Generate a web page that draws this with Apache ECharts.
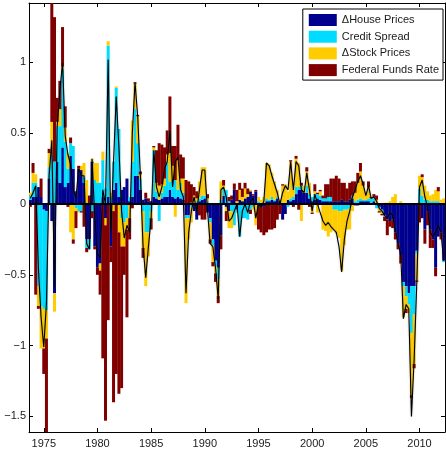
<!DOCTYPE html>
<html>
<head>
<meta charset="utf-8">
<script src="https://cdn.jsdelivr.net/npm/echarts@6/dist/echarts.min.js"></script>
<style>
  html, body { margin: 0; padding: 0; background: #fff; }
  #chart { width: 446px; height: 457px; }
</style>
</head>
<body>
<div id="chart"></div>
<script>
// Quarterly historical decomposition, 1973Q4 - 2012Q2
const firstQuarter = 1973.75;

const housePrices = [
  0.03, 0.05, 0.05, 0.12, 0.05, -0.04, -0.05, 0.18, -0.12, -0.63,
  0.30, 0.15, 0.40, 0.12, 0.15, 0.34, 0.25, 0.09, 0.25, 0.24,
  0.15, -0.25, -0.25, 0.30, -0.30, -0.45, -0.42, 0.05, -0.10, 0.05,
  -0.30, 0.10, 0.15, 0.05, 0.10, 0.12, 0.18, 0.02, 0.05, 0.20,
  0.20, 0.10, 0.03, 0.04, 0.02, 0.02, 0.05, 0.04, 0.03, 0.04,
  0.05, 0.05, 0.10, 0.05, 0.04, 0.05, 0.04, 0.03, -0.08, -0.08,
  0.01, -0.05, -0.11, 0.02, 0.03, 0.04, -0.06, -0.10, -0.25, -0.40,
  -0.45, -0.22, 0.06, -0.02, -0.05, 0.03, 0.10, -0.04, 0.03, 0.02,
  0.04, 0.05, 0.09, 0.06, 0.09, -0.02, -0.02, -0.02, 0.02, 0.02,
  0.03, 0.02, 0.04, 0.02, -0.11, -0.07, 0.03, 0.02, 0.03, 0.07,
  0.10, 0.10, 0.08, 0.08, 0.04, 0.02, 0.03, 0.04, 0.03, 0.02,
  0.02, 0.02, 0.02, 0.02, 0.02, 0.02, 0.03, 0.02, 0.02, 0.03,
  0.04, -0.01, -0.01, 0.02, 0.02, 0.02, 0.02, 0.01, 0.02, -0.01,
  -0.02, -0.04, -0.08, -0.11, -0.12, -0.11, -0.20, -0.28, -0.36, -0.55,
  -0.58, -0.63, -0.58, -0.58, -0.33, 0.01, -0.10, -0.18, -0.05, -0.18,
  -0.25, -0.45, -0.23, -0.20, -0.40
];

const creditSpread = [
  0.03, 0.10, 0.10, -0.58, -0.72, -0.70, -0.70, 0.08, 0.35, 0.30,
  0.25, 0.40, 0.55, 0.32, 0.10, 0.09, 0.16, -0.03, -0.05, -0.05,
  0.04, -0.06, -0.07, -0.05, 0.17, 0.15, 0.15, 0.26, 0.11, 1.07,
  0.05, 0.20, 0.67, 0.48, -0.10, -0.13, -0.10, 0.03, 0.25, 0.47,
  0.23, 0.08, -0.05, -0.20, -0.20, -0.05, 0.33, 0.05, -0.12, 0.04,
  0.08, 0.25, 0.06, 0.12, 0.13, 0.05, 0.11, 0.05, -0.02, -0.02,
  -0.02, 0.00, 0.02, 0.02, 0.03, 0.02, 0.02, -0.03, -0.04, -0.04,
  -0.08, 0.03, 0.05, 0.10, 0.02, -0.05, -0.15, -0.02, -0.23, -0.10,
  -0.10, -0.11, -0.04, -0.02, 0.00, 0.02, 0.01, 0.00, 0.02, 0.01,
  0.02, 0.01, 0.01, 0.00, 0.01, 0.01, -0.02, 0.02, 0.02, 0.05,
  0.02, 0.03, 0.00, 0.05, 0.03, 0.03, 0.04, 0.03, 0.03, 0.02,
  0.02, 0.03, 0.03, -0.04, -0.04, -0.05, -0.05, -0.04, -0.04, -0.03,
  0.02, 0.02, 0.03, 0.02, 0.01, 0.01, 0.02, 0.03, 0.02, -0.02,
  -0.01, -0.01, -0.01, 0.00, 0.00, 0.00, 0.00, 0.00, 0.00, -0.03,
  -0.07, -0.08, -0.33, -0.20, -0.02, 0.10, 0.06, 0.03, 0.03, 0.02,
  0.02, 0.02, 0.02, 0.01, -0.01
];

const stockPrices = [
  0.02, 0.07, 0.06, -0.14, -0.30, -0.28, -0.20, 0.10, 0.23, -0.13,
  0.03, 0.12, 0.02, 0.10, 0.11, -0.20, -0.25, -0.02, -0.01, 0.03,
  0.10, 0.17, 0.00, 0.02, 0.12, 0.14, -0.05, 0.06, -0.05, 0.03,
  0.03, -0.05, 0.01, -0.20, -0.20, -0.17, -0.08, -0.10, 0.29, 0.18,
  0.19, 0.03, -0.26, -0.38, -0.17, -0.05, 0.02, 0.06, 0.10, 0.06,
  0.05, 0.05, 0.20, 0.10, -0.09, 0.21, 0.03, 0.10, -0.60, -0.15,
  -0.11, 0.06, 0.02, 0.12, 0.20, 0.20, 0.02, -0.12, -0.12, -0.05,
  -0.12, 0.13, 0.02, -0.03, -0.12, -0.12, 0.00, 0.02, 0.07, 0.03,
  0.07, 0.02, 0.01, -0.02, -0.15, 0.03, 0.02, 0.05, 0.25, 0.25,
  0.17, 0.13, 0.05, 0.01, 0.12, 0.13, 0.06, 0.26, 0.06, 0.20,
  0.17, -0.12, 0.05, 0.10, 0.08, -0.06, 0.02, -0.06, 0.03, -0.18,
  -0.19, -0.23, -0.20, -0.14, -0.17, -0.19, -0.42, -0.25, -0.14, -0.15,
  -0.05, 0.06, 0.12, 0.19, 0.10, 0.05, 0.08, 0.00, 0.01, 0.03,
  -0.02, -0.02, 0.01, 0.01, 0.02, 0.05, 0.07, 0.00, 0.02, -0.22,
  -0.09, -0.06, -0.44, -0.35, -0.19, 0.09, 0.13, 0.10, 0.06, 0.04,
  0.05, 0.08, 0.07, 0.02, 0.04
];

const fedFundsRate = [
  -0.02, 0.07, -0.64, -0.02, 0.13, -0.18, -0.70, 0.03, 0.90, 1.02,
  0.17, 0.20, 0.28, 0.15, -0.02, 0.04, -0.03, -0.12, 0.02, -0.01,
  -0.16, -0.03, 0.06, -0.05, -0.02, -0.05, -0.17, -1.09, -1.38, -0.82,
  -0.11, -1.35, -1.20, -1.14, -1.00, -0.20, -0.62, -0.15, -0.03, 0.01,
  0.01, 0.02, -0.07, 0.04, 0.02, -0.08, 0.01, 0.23, 0.30, 0.28,
  0.22, 0.17, 0.40, 0.14, 0.24, 0.25, 0.17, 0.15, 0.17, 0.16,
  0.13, 0.06, 0.05, -0.08, -0.11, -0.11, 0.03, -0.03, -0.03, -0.06,
  -0.05, -0.10, 0.04, -0.07, 0.03, 0.03, 0.045, 0.08, 0.05, 0.06,
  0.04, 0.04, -0.03, 0.01, 0.01, -0.16, -0.18, -0.20, -0.20, -0.18,
  -0.18, -0.17, -0.11, -0.07, 0.01, 0.00, 0.00, 0.01, -0.02, 0.02,
  -0.04, 0.02, 0.00, 0.03, -0.02, -0.01, 0.05, 0.01, 0.01, 0.02,
  0.10, 0.09, 0.13, 0.16, 0.18, 0.16, 0.12, 0.13, 0.09, 0.12,
  0.10, 0.08, 0.07, 0.06, 0.03, 0.00, 0.04, 0.01, 0.02, 0.03,
  -0.01, -0.01, -0.03, -0.11, -0.04, -0.06, -0.05, -0.04, -0.06, 0.00,
  -0.03, 0.00, -0.02, -0.03, -0.01, -0.13, 0.02, -0.10, -0.10, -0.13,
  -0.06, -0.06, 0.03, -0.05, 0.00
];

// Observed deviation (black line)
const observed = [
  0.04, 0.08, 0.13, -0.45, -0.80, -1.01, -0.70, 0.20, 0.45, -0.58,
  0.55, 0.80, 1.00, 0.48, 0.35, 0.28, 0.10, 0.04, 0.25, 0.20,
  0.20, -0.28, -0.32, 0.32, -0.10, -0.35, -0.38, 0.10, 0.00, 1.02,
  -0.20, 0.30, 0.76, 0.40, -0.05, -0.24, -0.15, -0.20, 0.50, 0.86,
  0.62, 0.20, -0.30, -0.52, -0.30, -0.10, 0.38, 0.12, 0.05, 0.12,
  0.25, 0.30, 0.52, 0.12, 0.30, 0.33, 0.10, 0.05, -0.63, -0.20,
  -0.05, 0.05, -0.05, 0.10, 0.24, 0.24, -0.04, -0.28, -0.30, -0.45,
  -0.67, 0.10, 0.12, 0.05, -0.12, -0.10, -0.05, 0.00, -0.23, -0.05,
  0.00, -0.06, 0.02, 0.04, -0.10, 0.00, -0.02, 0.02, 0.29, 0.27,
  0.20, 0.14, 0.08, 0.00, 0.08, 0.13, 0.10, 0.30, 0.10, 0.30,
  0.27, 0.10, 0.08, 0.22, 0.10, -0.05, 0.07, 0.00, -0.06, -0.12,
  -0.15, -0.13, -0.16, -0.18, -0.20, -0.30, -0.48, -0.25, -0.12, -0.05,
  0.05, 0.10, 0.16, 0.20, 0.14, 0.06, 0.13, 0.04, 0.05, 0.02,
  -0.03, -0.05, -0.08, -0.10, -0.06, -0.08, -0.18, -0.28, -0.35, -0.81,
  -0.71, -0.74, -1.50, -1.10, -0.55, 0.12, 0.17, 0.05, -0.02, -0.20,
  -0.23, -0.20, -0.15, -0.20, -0.40
];

const yearTicks = [1975, 1980, 1985, 1990, 1995, 2000, 2005, 2010];
const valueTicks = [-1.5, -1, -0.5, 0, 0.5, 1];
const seriesNames = ['\u0394House Prices', 'Credit Spread', '\u0394Stock Prices', 'Federal Funds Rate'];
const seriesColors = ['#00008f', '#00dcff', '#ffcc00', '#800000'];

const quarters = housePrices.map((_, i) => String(firstQuarter + 0.25 * i));
const components = [housePrices, creditSpread, stockPrices, fedFundsRate];

const FONT = "'Liberation Sans', Arial, sans-serif";
const fmtValue = v => (v < 0 ? '\u2212' + Math.abs(v) : String(v));
const isYearTick = (idx, val) => yearTicks.indexOf(Number(val)) >= 0;

function xAxisDef(pos, labels) {
  return {
    type: 'category', position: pos, data: quarters, boundaryGap: true,
    axisLine: { show: true, onZero: false, lineStyle: { color: '#000', width: 1 } },
    axisTick: { show: true, inside: true, length: 4, alignWithLabel: true, interval: isYearTick, lineStyle: { color: '#000' } },
    axisLabel: { show: labels, interval: isYearTick, margin: 6, fontSize: 11, color: '#1a1a1a', fontFamily: FONT, formatter: v => v },
    splitLine: { show: false }
  };
}
function yAxisDef(pos, labels) {
  return {
    type: 'value', position: pos, min: -1.61, max: 1.42,
    axisLine: { show: true, onZero: false, lineStyle: { color: '#000', width: 1 } },
    axisTick: { show: true, inside: true, length: 4, customValues: valueTicks, lineStyle: { color: '#000' } },
    axisLabel: { show: labels, customValues: valueTicks, margin: 3, fontSize: 11, color: '#1a1a1a', fontFamily: FONT, formatter: fmtValue },
    splitLine: { show: false }
  };
}

const barSeries = components.map((arr, k) => ({
  name: seriesNames[k],
  type: 'bar',
  stack: 'decomp',
  stackStrategy: 'samesign',
  barWidth: 3,
  xAxisIndex: 0, yAxisIndex: 0,
  itemStyle: { color: seriesColors[k] },
  data: arr,
  z: 2
}));

const option = {
  animation: false,
  backgroundColor: '#fff',
  grid: { left: 29, right: 1, top: 3, bottom: 25 },
  xAxis: [xAxisDef('bottom', true), xAxisDef('top', false)],
  yAxis: [yAxisDef('left', true), yAxisDef('right', false)],
  legend: {
    data: seriesNames,
    orient: 'vertical',
    right: 3, top: 9,
    padding: [5, 4, 4, 6],
    itemWidth: 28, itemHeight: 12, itemGap: 4.7,
    icon: 'rect',
    backgroundColor: '#fff',
    borderColor: '#000', borderWidth: 1,
    textStyle: { fontSize: 11, lineHeight: 12, color: '#1a1a1a', fontFamily: FONT }
  },
  series: barSeries.concat([{
    name: 'Observed',
    type: 'line',
    xAxisIndex: 0, yAxisIndex: 0,
    data: observed,
    symbol: 'none',
    lineStyle: { color: '#000', width: 1.1, shadowColor: 'rgba(90,90,90,0.45)', shadowBlur: 2 },
    z: 4,
    markLine: {
      silent: true, symbol: 'none',
      label: { show: false },
      lineStyle: { color: '#000', width: 2, type: 'solid' },
      data: [{ yAxis: 0 }]
    }
  }])
};

const chart = echarts.init(document.getElementById('chart'), null, { renderer: 'canvas' });
chart.setOption(option);
</script>
</body>
</html>
